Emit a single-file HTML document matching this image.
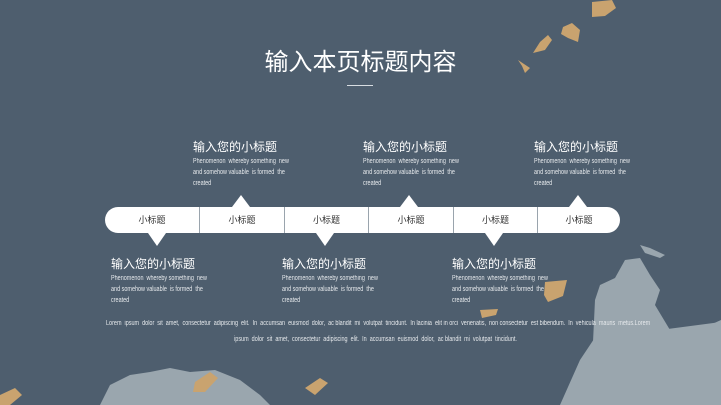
<!DOCTYPE html>
<html><head><meta charset="utf-8"><style>
body{margin:0;width:721px;height:405px;overflow:hidden;background:#4e5e6e;font-family:"Liberation Sans","Noto Sans CJK SC",sans-serif;position:relative}
.a{position:absolute}
.t{color:#fff;font-size:12px;white-space:nowrap}
.d{color:#e6e9ec;font-size:7px;line-height:11px;white-space:nowrap;transform:scaleX(0.78);transform-origin:left top;margin-top:1px}
.bar{position:absolute;left:105px;top:207px;width:515px;height:26px;background:#fff;border-radius:13px;display:flex;overflow:hidden}
.bar div{border-right:1px solid #9aa4ad;text-align:center;line-height:26px;font-size:9px;color:#333;box-sizing:border-box}
.bar div:last-child{border-right:none}
.up{position:absolute;width:0;height:0;border-left:9px solid transparent;border-right:9px solid transparent;border-bottom:12px solid #fff}
.dn{position:absolute;width:0;height:0;border-left:9px solid transparent;border-right:9px solid transparent;border-top:13px solid #fff}
</style></head><body>
<svg class="a" style="left:0;top:0" width="721" height="405">
<g fill="#9aa6ae">
<path d="M590 405 L595 300 L600 285 L615 278 L625 260 L640 258 L650 275 L660 290 L655 305 L670 330 L690 330 L700 330 L710 325 L721 320 L721 405 Z"/>
<path d="M560 405 L580 360 L600 330 L625 300 L640 320 L660 330 L721 322 L721 405 Z"/>
<path d="M100 405 L110 385 L130 375 L150 372 L170 368 L190 372 L215 370 L240 380 L260 395 L270 405 Z"/>
<path d="M640 245 L650 248 L665 255 L660 258 L645 253 Z"/>
</g>
<g fill="#c9a36f">
<path d="M592 2 L612 0 L616 8 L605 16 L592 17 Z"/>
<path d="M563 27 L572 23 L580 30 L578 42 L568 38 L561 34 Z"/>
<path d="M548 35 L552 40 L545 50 L533 53 L540 42 Z"/>
<path d="M518 60 L524 64 L530 68 L525 73 L522 66 Z"/>
<path d="M545 282 L567 280 L563 296 L548 302 L544 295 Z"/>
<path d="M480 310 L498 309 L496 315 L482 318 Z"/>
<path d="M195 382 L210 372 L218 378 L205 392 L193 392 Z"/>
<path d="M305 388 L320 378 L328 383 L315 395 Z"/>
<path d="M0 395 L15 388 L22 395 L10 405 L0 405 Z"/>
</g>
</svg>
<div class="a t" style="left:0;width:721px;text-align:center;top:42px;font-size:24px">输入本页标题内容</div>
<div class="a" style="left:347px;top:85px;width:26px;height:1px;background:#d8dde2"></div>

<div class="a" style="left:193px;top:138px"><div class="t">输入您的小标题</div><div class="d">Phenomenon&nbsp; whereby something&nbsp; new<br>and somehow valuable&nbsp; is formed&nbsp; the<br>created</div></div>
<div class="a" style="left:363px;top:138px"><div class="t">输入您的小标题</div><div class="d">Phenomenon&nbsp; whereby something&nbsp; new<br>and somehow valuable&nbsp; is formed&nbsp; the<br>created</div></div>
<div class="a" style="left:534px;top:138px"><div class="t">输入您的小标题</div><div class="d">Phenomenon&nbsp; whereby something&nbsp; new<br>and somehow valuable&nbsp; is formed&nbsp; the<br>created</div></div>
<div class="a" style="left:111px;top:255px"><div class="t">输入您的小标题</div><div class="d">Phenomenon&nbsp; whereby something&nbsp; new<br>and somehow valuable&nbsp; is formed&nbsp; the<br>created</div></div>
<div class="a" style="left:282px;top:255px"><div class="t">输入您的小标题</div><div class="d">Phenomenon&nbsp; whereby something&nbsp; new<br>and somehow valuable&nbsp; is formed&nbsp; the<br>created</div></div>
<div class="a" style="left:452px;top:255px"><div class="t">输入您的小标题</div><div class="d">Phenomenon&nbsp; whereby something&nbsp; new<br>and somehow valuable&nbsp; is formed&nbsp; the<br>created</div></div>

<div class="up" style="left:232px;top:195px"></div>
<div class="up" style="left:400px;top:195px"></div>
<div class="up" style="left:569px;top:195px"></div>
<div class="dn" style="left:148px;top:233px"></div>
<div class="dn" style="left:316px;top:233px"></div>
<div class="dn" style="left:485px;top:233px"></div>

<div class="bar"><div style="width:95px">小标题</div><div style="width:85px">小标题</div><div style="width:84px">小标题</div><div style="width:85px">小标题</div><div style="width:84px">小标题</div><div style="width:82px">小标题</div></div>

<div class="a" style="left:0;width:721px;top:316px;text-align:center;color:#e6e9ec;font-size:7px;line-height:16px;white-space:nowrap"><div style="transform:scaleX(0.78);margin-left:30px">Lorem&nbsp; ipsum&nbsp; dolor&nbsp; sit&nbsp; amet,&nbsp; consectetur&nbsp; adipiscing&nbsp; elit.&nbsp; In&nbsp; accumsan&nbsp; euismod&nbsp; dolor,&nbsp; ac blandit&nbsp; mi&nbsp; volutpat&nbsp; tincidunt.&nbsp; In lacinia&nbsp; elit in orci&nbsp; venenatis,&nbsp; non consectetur&nbsp; est bibendum.&nbsp; In&nbsp; vehicula&nbsp; mauris&nbsp; metus.Lorem<br>ipsum&nbsp; dolor&nbsp; sit&nbsp; amet,&nbsp; consectetur&nbsp; adipiscing&nbsp; elit.&nbsp; In&nbsp; accumsan&nbsp; euismod&nbsp; dolor,&nbsp; ac blandit&nbsp; mi&nbsp; volutpat&nbsp; tincidunt.</div></div>
</body></html>
